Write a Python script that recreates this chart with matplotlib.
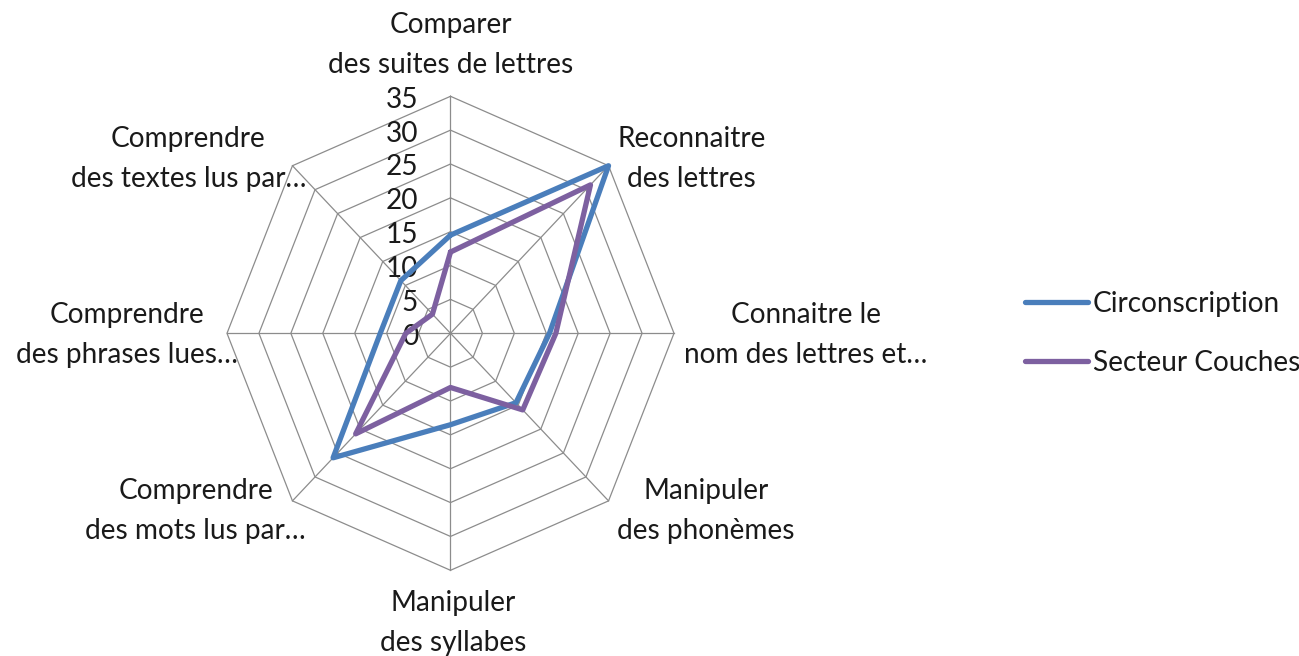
import numpy as np
import matplotlib
matplotlib.use("Agg")
import matplotlib.pyplot as plt

# ---------------- data ----------------
categories = [
    "Comparer\ndes suites de lettres",
    "Reconnaitre\ndes lettres",
    "Connaitre le\nnom des lettres et…",
    "Manipuler\ndes phonèmes",
    "Manipuler\ndes syllabes",
    "Comprendre\ndes mots lus par…",
    "Comprendre\ndes phrases lues…",
    "Comprendre\ndes textes lus par…",
]
circonscription = [14.5, 35, 15.5, 14.5, 13.5, 26, 11, 11]
secteur_couches = [12, 31, 16.5, 16, 8, 21, 7, 4]
series_names = ["Circonscription", "Secteur Couches"]
tick_values = [0, 5, 10, 15, 20, 25, 30, 35]
r_max = 35

# ---------------- style ----------------
FONT = "Lato"
FS = 20.2
plt.rcParams["font.family"] = [FONT, "DejaVu Sans"]
colors = ["#4A7EBB", "#7D60A0"]
grid_color = "#8C8C8C"
W, H = 1299, 656

fig = plt.figure(figsize=(W / 100, H / 100), dpi=100)
# axes box exactly covering the outer octagon (vertically slightly stretched like the original)
cx, cy, rx, ry = 450.5, 333.3, 223.5, 237.0
ax = fig.add_axes([(cx - rx) / W, (H - (cy + ry)) / H, 2 * rx / W, 2 * ry / H])
ax.set_xlim(-r_max, r_max)
ax.set_ylim(-r_max, r_max)
ax.axis("off")

n = len(categories)
theta = np.arange(n) * 2 * np.pi / n
sx, sy = np.sin(theta), np.cos(theta)

# rings
for t in tick_values[1:]:
    ax.plot(np.append(t * sx, t * sx[0]), np.append(t * sy, t * sy[0]),
            color=grid_color, lw=0.9, zorder=1, clip_on=False)
# spokes
for i in range(n):
    ax.plot([0, r_max * sx[i]], [0, r_max * sy[i]], color=grid_color, lw=0.9,
            zorder=1, clip_on=False)

# tick labels
for t in tick_values:
    ax.annotate(str(t), xy=(0, t), xytext=(-32.5 * 0.72, -3.4 * 0.72),
                textcoords="offset points", ha="right", va="center",
                fontsize=FS, color="#1a1a1a", zorder=3)

# series
for vals, name, col in zip([circonscription, secteur_couches], series_names, colors):
    v = np.asarray(vals, dtype=float)
    xs = np.append(v * sx, v[0] * sx[0])
    ys = np.append(v * sy, v[0] * sy[0])
    ax.plot(xs, ys, color=col, lw=3.8, label=name, solid_joinstyle="round",
            solid_capstyle="round", zorder=4, clip_on=False)

# category labels: (ha, dx_px, dy_px) relative to the outer vertex
label_layout = [
    ("center", 0, 51),
    ("left", 8.5, 6.7),
    ("left", 10, -1.7),
    ("left", 8.5, -10),
    ("center", 2.5, -52.7),
    ("right", 13.5, -10),
    ("right", 11, -1.7),
    ("right", 13.5, 6.7),
]
for i, (lab, (ha, dx, dy)) in enumerate(zip(categories, label_layout)):
    ax.annotate(lab, xy=(r_max * sx[i], r_max * sy[i]),
                xytext=(dx * 0.72, dy * 0.72), textcoords="offset points",
                ha=ha, va="center", multialignment="center",
                fontsize=FS, color="#1a1a1a", linespacing=1.65, zorder=3)

# legend
leg = fig.legend(loc="center left", bbox_to_anchor=(1025 / W, 1 - 333.5 / H),
                 frameon=False, fontsize=FS, handlelength=2.25,
                 handletextpad=0.17, labelspacing=1.17, borderpad=0,
                 borderaxespad=0)
for line in leg.get_lines():
    line.set_linewidth(3.8)
    line.set_solid_capstyle("round")
for txt in leg.get_texts():
    txt.set_color("#1a1a1a")

fig.savefig("out.png", dpi=100)
